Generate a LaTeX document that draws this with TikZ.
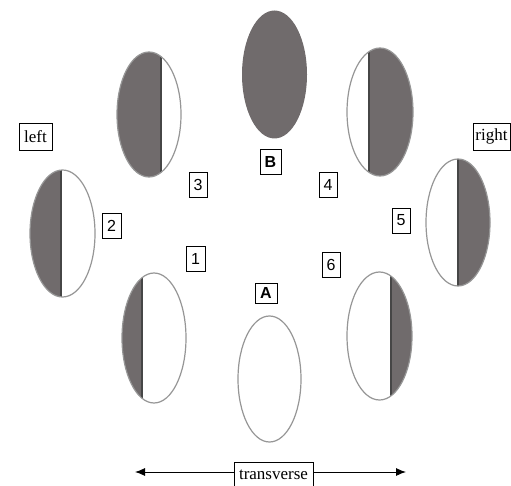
\documentclass[tikz,border=0pt]{standalone}
\usepackage{fontspec}
\setmainfont{Liberation Serif}
\setsansfont{Liberation Sans}
\usetikzlibrary{arrows.meta,positioning}
\definecolor{eyegray}{RGB}{112,107,108}
\definecolor{rimgray}{RGB}{150,150,150}
\definecolor{cutgray}{RGB}{70,70,70}

\begin{document}
\begin{tikzpicture}[
				x=1pt,y=-1pt,
				numbox/.style={draw,fill=white,line width=0.8pt,inner sep=0pt,
					minimum width=18pt,minimum height=25pt,
					font=\sffamily\fontsize{16}{16}\selectfont},
				letbox/.style={numbox,font=\sffamily\bfseries\fontsize{16}{16}\selectfont},
				wordbox/.style={draw,fill=white,line width=0.8pt,inner sep=1.5pt,
					minimum height=27pt,font=\fontsize{17}{17}\selectfont},
				rim/.style={draw=rimgray,line width=1.2pt},
				cut/.style={draw=cutgray,line width=1.2pt},
				>={Latex[length=10pt,width=8pt]}
				]
				\useasboundingbox (0,0) rectangle (511,486);
				
				% the eyes: centre, radii, shaded band from-to, cut line
				\foreach \cx/\cy/\rx/\ry/\fa/\fb/\cutx in {
						149/114.5/32/62.5/100/161/161,
						380/112/33/64/369/420/369,
						62.5/233.5/32.5/63.5/20/61/61,
						458/222.5/32/63.5/458/500/458,
						154/338/32/65/110/142/142,
						379.5/336/32.5/64/391/420/391,
						269.5/379/31.5/63/0/0/0}
				{
					\fill[white] (\cx,\cy) ellipse ({\rx} and {\ry});
					\begin{scope}
						\clip (\cx,\cy) ellipse ({\rx} and {\ry});
						\fill[eyegray] (\fa,\cy-70) rectangle (\fb,\cy+70);
						\draw[cut] (\cutx,\cy-70) -- (\cutx,\cy+70);
					\end{scope}
					\draw[rim] (\cx,\cy) ellipse ({\rx} and {\ry});
				}
				% the full one on top
				\fill[eyegray] (274.5,74.5) ellipse (32.5 and 64);
				
				% the numbers
				\node[numbox] (n3) at (198,184.5) {3};
				\node[numbox] (n4) at (328,184.5) {4};
				\node[numbox,minimum width=19pt] (n2) at (111.5,225.5) {2};
				\node[numbox] (n5) at (401,220.5) {5};
				\node[numbox,minimum width=19pt] (n1) at (195.5,258.5) {1};
				\node[numbox] (n6) at (331,264.5) {6};
				\node[letbox,minimum width=21pt] (b) at (270.5,161.5) {B};
				\node[letbox,minimum width=22pt,minimum height=20pt] (a) at (266,293) {A};
				
				% the words
				\node[wordbox,minimum width=33pt] (left) at (35.5,136.5) {left};
				\node[wordbox,minimum width=37pt] (right) at (491.5,136.5) {right};
				\node[wordbox,minimum width=79pt,minimum height=26pt] (trans) at (273.5,475) {transverse};
				
				% the arrow
				\coordinate (tl) at (135,472);
				\coordinate (tr) at (406,472);
				\draw[->,line width=0.9pt] (trans.west |- tl) -- (tl);
				\draw[->,line width=0.9pt] (trans.east |- tr) -- (tr);
			\end{tikzpicture}
\end{document}
